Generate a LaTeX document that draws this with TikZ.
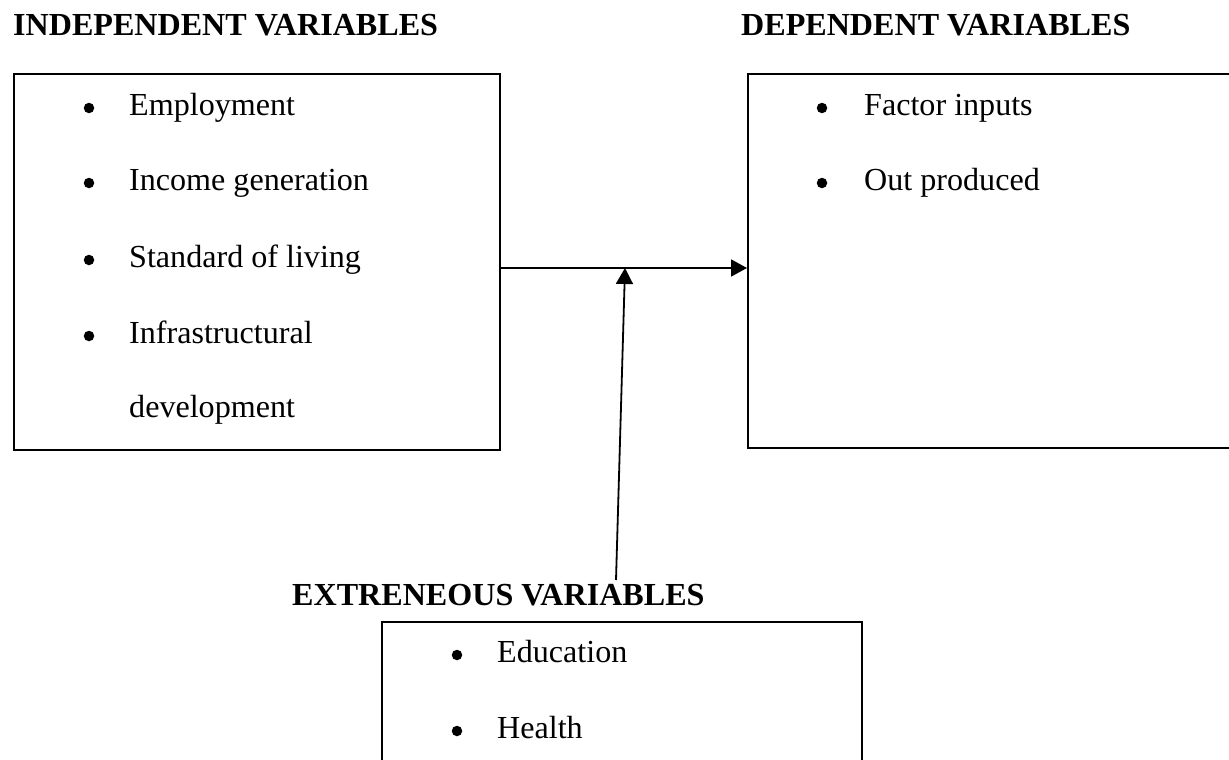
\documentclass[tikz,border=0pt]{standalone}
\usepackage{fontspec}
\setmainfont{Liberation Serif}
\usetikzlibrary{arrows.meta}
\tikzset{
  varbox/.style={draw, line width=1.8pt, rectangle, anchor=north west, inner sep=0pt},
  txt/.style={anchor=base west, inner sep=0pt, font=\fontsize{32.1}{38}\selectfont},
  hdr/.style={anchor=base west, inner sep=0pt, font=\fontsize{32.1}{38}\selectfont\bfseries},
  bul/.style={circle, fill, inner sep=0pt, minimum size=10.5pt},
  conn/.style={line width=1.8pt, -{Triangle[length=16pt,width=17pt]}}
}
\begin{document}
\begin{tikzpicture}[x=1pt,y=-1pt]
\useasboundingbox (0,0) rectangle (1229,760);
\clip (0,0) rectangle (1229,760);
% boxes
\node[varbox, minimum width=486pt, minimum height=376pt] (indep) at (13,73) {};
\node[varbox, minimum width=520pt, minimum height=374pt] (dep) at (747,73) {};
\node[varbox, minimum width=480pt, minimum height=200pt] (extr) at (381,621) {};
% headings
\node[hdr] (hindep) at (13,36) {INDEPENDENT VARIABLES};
\node[hdr] (hdep) at (741,36) {DEPENDENT VARIABLES};
\node[hdr] (hextr) at (292,605) {EXTRENEOUS VARIABLES};
% independent items
\node[bul] (b1) at (89,108) {};
\node[txt] (t1) at (129,115) {Employment};
\node[bul] (b2) at (89,183) {};
\node[txt] (t2) at (129,190) {Income generation};
\node[bul] (b3) at (89,260) {};
\node[txt] (t3) at (129,267) {Standard of living};
\node[bul] (b4) at (89,336) {};
\node[txt] (t4) at (129,343) {Infrastructural};
\node[txt] (t5) at (129,417) {development};
% dependent items
\node[bul] (d1b) at (822,108) {};
\node[txt] (d1) at (864,115) {Factor inputs};
\node[bul] (d2b) at (822,183) {};
\node[txt] (d2) at (864,190) {Out produced};
% extraneous items
\node[bul] (e1b) at (457,655) {};
\node[txt] (e1) at (497,662) {Education};
\node[bul] (e2b) at (457,731) {};
\node[txt] (e2) at (497,738) {Health};
% connectors
\coordinate (join) at (625,268);
\coordinate (extrtop) at (616,580);
\draw[conn] (indep.east |- join) -- (dep.west |- join);
\draw[conn] (extrtop) -- (join);
\end{tikzpicture}
\end{document}
